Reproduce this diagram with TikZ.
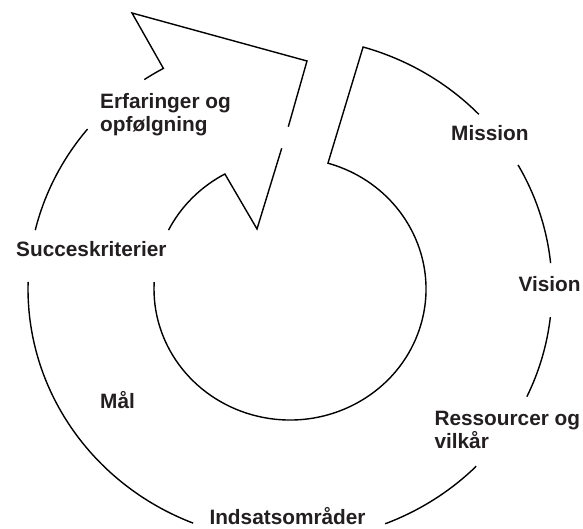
\documentclass[tikz,border=0pt]{standalone}
\usepackage{fontspec}
\setmainfont{Liberation Sans}
\usetikzlibrary{calc}
\begin{document}
\begin{tikzpicture}[x=1pt,y=1pt,
  outline/.style={line width=1.4pt,line join=miter,black},
  lbl/.style={inner sep=0pt,anchor=base west,align=left,text={rgb,255:red,35;green,31;blue,32},
    font=\bfseries\fontsize{20.8}{23.3}\selectfont}]
\useasboundingbox (0,0) rectangle (583,528);
\coordinate (C) at (290,239);
% key points
\coordinate (tailI) at ($(C)+(73.8:136 and 131)$);
\coordinate (baseI) at ($(C)+(118.6:136 and 131)$);
\coordinate (barbO) at (132,515);
\coordinate (tip) at (307,467);
\coordinate (gapA) at (288.3,401.3);
\coordinate (gapB) at (281.7,379.7);
\coordinate (barbI) at (257,299);
% tail and inner ring
\draw[outline] ($(C)+(43.9:262 and 252)$) arc[start angle=43.9,end angle=73.8,x radius=262,y radius=252]
  -- (tailI) arc[start angle=73.8,end angle=-183,x radius=136,y radius=131];
% outer ring segments
\draw[outline] ($(C)+(29.5:262 and 252)$) arc[start angle=29.5,end angle=5.9,x radius=262,y radius=252];
\draw[outline] ($(C)+(-6.4:262 and 252)$) arc[start angle=-6.4,end angle=-25.3,x radius=262,y radius=252];
\draw[outline] ($(C)+(-44.7:262 and 252)$) arc[start angle=-44.7,end angle=-68.7,x radius=262,y radius=252];
\draw[outline] ($(C)+(-111.7:262 and 252)$) arc[start angle=-111.7,end angle=-181.6,x radius=262,y radius=252];
\draw[outline] ($(C)+(166.5:262 and 252)$) arc[start angle=166.5,end angle=140.6,x radius=262,y radius=252];
% arrow head
\draw[outline] ($(C)+(123.8:262 and 252)$) arc[start angle=123.8,end angle=118.9,x radius=262,y radius=252]
  -- (barbO) -- (tip) -- (gapA);
\draw[outline] (gapB) -- (barbI) -- (baseI)
  arc[start angle=118.6,end angle=153.3,x radius=136,y radius=131];
% labels
\node[lbl] (erf) at (100,396.2) {Erfaringer og\\opfølgning};
\node[lbl] (suc) at (16,271) {Succeskriterier};
\node[lbl] (mis) at (451,387) {Mission};
\node[lbl] (vis) at (518.3,237) {Vision};
\node[lbl] (res) at (434.3,79.7) {Ressourcer og\\vilkår};
\node[lbl] (ind) at (209.3,3.7) {Indsatsområder};
\node[lbl] (mal) at (100,119.7) {Mål};
\end{tikzpicture}
\end{document}
